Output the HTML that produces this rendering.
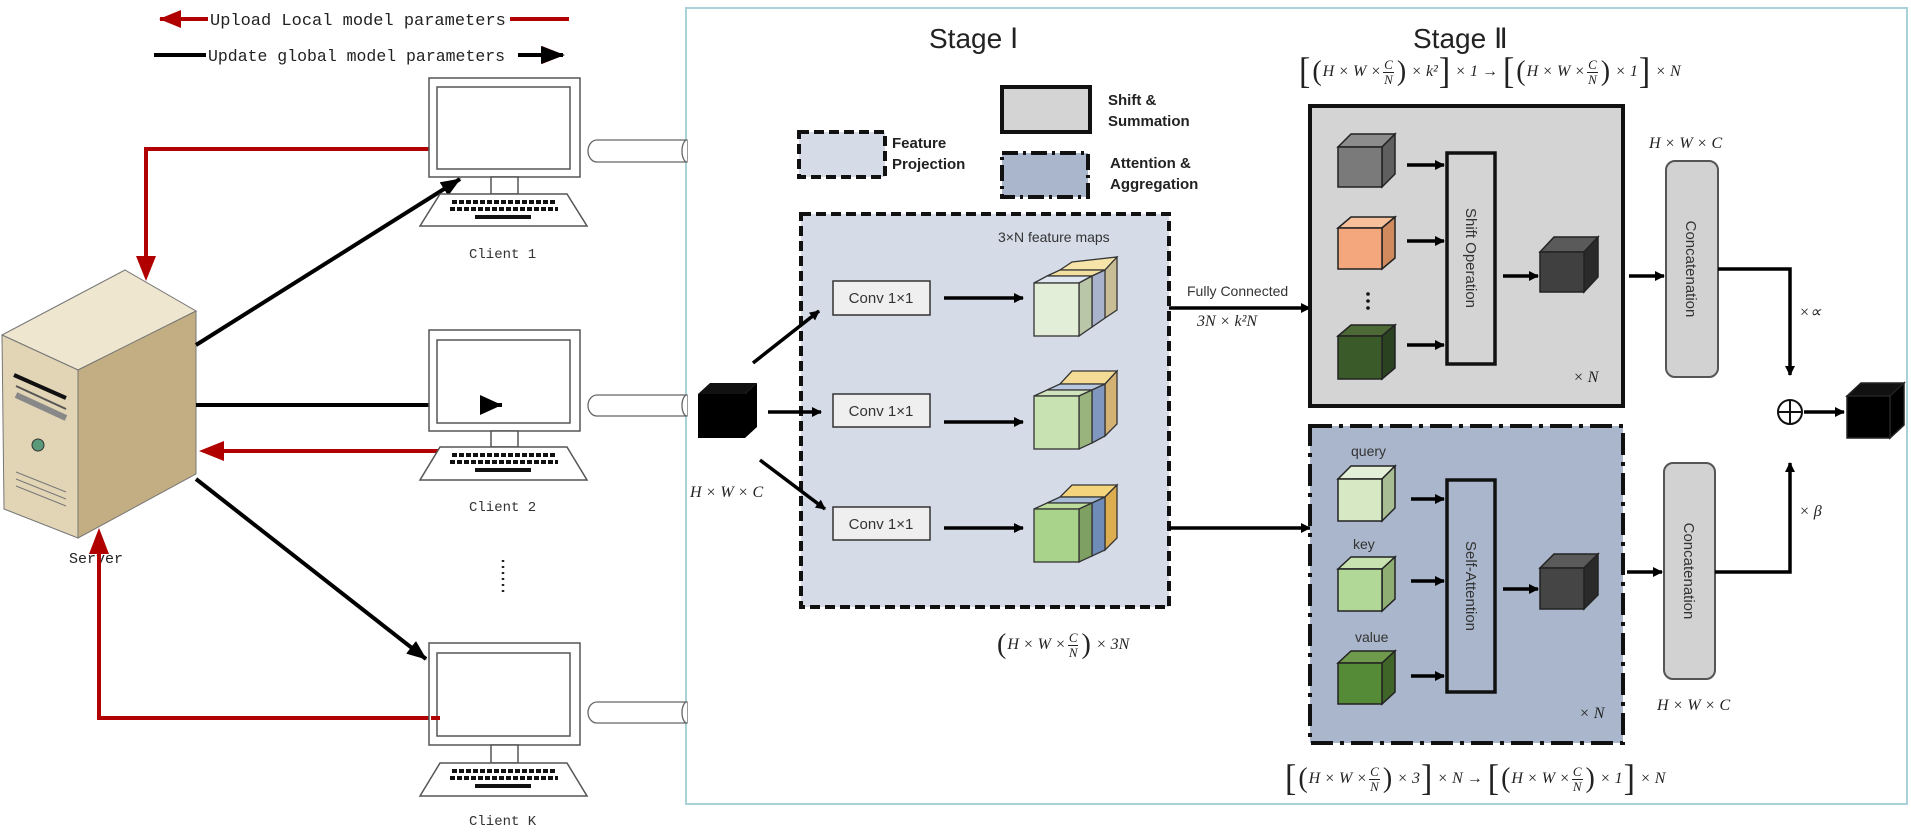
<!DOCTYPE html>
<html><head><meta charset="utf-8">
<style>
body{margin:0;background:#fff;}
#w{position:relative;width:1911px;height:840px;overflow:hidden;font-family:"Liberation Sans",sans-serif;}
svg{position:absolute;left:0;top:0;}
.f{position:absolute;font-family:"Liberation Serif",serif;font-style:italic;font-size:16px;color:#222;white-space:nowrap;display:flex;align-items:center;}
.fr{display:inline-flex;flex-direction:column;align-items:center;font-size:13px;line-height:14px;margin:0 2px;}
.fr span:first-child{border-bottom:1px solid #222;padding:0 1px;}
.b{font-style:normal;font-size:34px;transform:scaleY(1.1);margin:0 1px;font-weight:300;}
.p{font-style:normal;font-size:28px;margin:0 1px;}
</style></head><body><div id="w">
<svg width="1911" height="840" viewBox="0 0 1911 840">
<defs>
<marker id="ab" markerWidth="10" markerHeight="10" refX="9" refY="5" orient="auto" markerUnits="userSpaceOnUse" viewBox="0 0 10 10"><path d="M0,0 L10,5 L0,10 z" fill="#000"/></marker>
<marker id="abig" markerWidth="20" markerHeight="16" refX="19" refY="8" orient="auto" markerUnits="userSpaceOnUse"><path d="M0,0 L20,8 L0,16 z" fill="#000"/></marker>
<marker id="ar" markerWidth="22" markerHeight="18" refX="21" refY="9" orient="auto" markerUnits="userSpaceOnUse"><path d="M0,0 L22,9 L0,18 z" fill="#b00000"/></marker>
</defs>

<!-- Frame -->
<rect x="686" y="8" width="1221" height="796" fill="none" stroke="#a9d2d8" stroke-width="2"/>

<!-- Legend -->
<line x1="569" y1="19" x2="160" y2="19" stroke="#b00000" stroke-width="4" marker-end="url(#ar)"/>
<rect x="208" y="8" width="302" height="22" fill="#fff"/>
<text x="210" y="25" font-family="Liberation Mono,monospace" font-size="17" fill="#222">Upload Local model parameters</text>
<line x1="154" y1="55" x2="563" y2="55" stroke="#000" stroke-width="4" marker-end="url(#ar)"/>
<path d="M541,46 L565,55 L541,64 z" fill="#000"/>
<rect x="206" y="44" width="312" height="22" fill="#fff"/>
<text x="208" y="61" font-family="Liberation Mono,monospace" font-size="16.5" fill="#222">Update global model parameters</text>

<!-- Server -->
<polygon points="2,335 125,270 196,311 78,370" fill="#efe6d0" stroke="#777" stroke-width="1"/>
<polygon points="2,335 78,370 78,538 4,509" fill="#e2d5b6" stroke="#777" stroke-width="1"/>
<polygon points="78,370 196,311 196,474 78,538" fill="#c3ad82" stroke="#777" stroke-width="1"/>
<line x1="14" y1="375" x2="66" y2="398" stroke="#111" stroke-width="4"/>
<line x1="16" y1="386" x2="66" y2="409" stroke="#555" stroke-width="2"/>
<line x1="16" y1="395" x2="66" y2="418" stroke="#888" stroke-width="6"/>
<circle cx="38" cy="445" r="6" fill="#5a9a7a" stroke="#333"/>
<line x1="16" y1="472" x2="66" y2="492" stroke="#777"/>
<line x1="16" y1="479" x2="66" y2="499" stroke="#777"/>
<line x1="16" y1="486" x2="66" y2="506" stroke="#777"/>
<text x="69" y="563" font-family="Liberation Mono,monospace" font-size="15" fill="#222">Server</text>

<!-- Red arrows -->
<polyline points="431,149 146,149 146,258" fill="none" stroke="#b00000" stroke-width="4"/>
<path d="M136,256 L146,281 L156,256 z" fill="#b00000"/>
<line x1="444" y1="451" x2="222" y2="451" stroke="#b00000" stroke-width="4"/>
<path d="M224,441 L199,451 L224,461 z" fill="#b00000"/>
<polyline points="431,718 99,718 99,552" fill="none" stroke="#b00000" stroke-width="4"/>
<path d="M89,554 L99,528 L109,554 z" fill="#b00000"/>

<!-- Black arrows -->
<line x1="196" y1="345" x2="460" y2="179" stroke="#000" stroke-width="4" marker-end="url(#abig)"/>
<line x1="196" y1="405" x2="502" y2="405" stroke="#000" stroke-width="4" marker-end="url(#abig)"/>
<line x1="196" y1="479" x2="426" y2="659" stroke="#000" stroke-width="4" marker-end="url(#abig)"/>

<!-- Clients -->
<g id="c1" fill="#fff" stroke="#555" stroke-width="1.5">
<rect x="429" y="78" width="151" height="99"/>
<rect x="437" y="87" width="133" height="82"/>
<rect x="491" y="177" width="27" height="17"/>
<polygon points="440,194 567,194 587,226 420,226"/>
</g>
<g stroke="#111" stroke-width="4" stroke-dasharray="5,2">
<line x1="452" y1="202" x2="556" y2="202"/><line x1="450" y1="209" x2="558" y2="209"/>
</g>
<rect x="475" y="215" width="56" height="4" fill="#111"/>
<text x="469" y="258" font-family="Liberation Mono,monospace" font-size="14" fill="#333">Client 1</text>

<g fill="#fff" stroke="#555" stroke-width="1.5">
<rect x="429" y="330" width="151" height="101"/>
<rect x="437" y="340" width="133" height="83"/>
<rect x="491" y="431" width="27" height="16"/>
<polygon points="440,447 567,447 587,480 420,480"/>
</g>
<g stroke="#111" stroke-width="4" stroke-dasharray="5,2">
<line x1="452" y1="455" x2="556" y2="455"/><line x1="450" y1="462" x2="558" y2="462"/>
</g>
<rect x="475" y="468" width="56" height="4" fill="#111"/>
<text x="469" y="511" font-family="Liberation Mono,monospace" font-size="14" fill="#333">Client 2</text>
<line x1="502" y1="405" x2="480" y2="405" stroke="#000" stroke-width="4"/>
<path d="M480,395 L502,405 L480,415 z" fill="#000"/>

<g fill="#fff" stroke="#555" stroke-width="1.5">
<rect x="429" y="643" width="151" height="102"/>
<rect x="437" y="653" width="133" height="83"/>
<rect x="491" y="745" width="27" height="18"/>
<polygon points="440,763 567,763 587,796 420,796"/>
</g>
<g stroke="#111" stroke-width="4" stroke-dasharray="5,2">
<line x1="452" y1="771" x2="556" y2="771"/><line x1="450" y1="778" x2="558" y2="778"/>
</g>
<rect x="475" y="784" width="56" height="4" fill="#111"/>
<text x="469" y="825" font-family="Liberation Mono,monospace" font-size="14" fill="#333">Client K</text>
<line x1="431" y1="718" x2="440" y2="718" stroke="#b00000" stroke-width="4"/>

<line x1="503" y1="560" x2="503" y2="596" stroke="#222" stroke-width="2.5" stroke-dasharray="2,4"/>

<!-- Cylinders -->
<g fill="#fff" stroke="#666" stroke-width="1.3">
<path d="M597,140 L687,140 L687,162 L597,162 A9,11 0 0 1 597,140 z"/>
<path d="M687,140 A5,11 0 0 0 687,162"/>
<path d="M597,395 L687,395 L687,416 L597,416 A9,10.5 0 0 1 597,395 z"/>
<path d="M687,395 A5,10.5 0 0 0 687,416"/>
<path d="M597,702 L687,702 L687,723 L597,723 A9,10.5 0 0 1 597,702 z"/>
<path d="M687,702 A5,10.5 0 0 0 687,723"/>
</g>

<!-- Stage I -->
<text x="929" y="48" font-size="28" fill="#222">Stage Ⅰ</text>
<rect x="799" y="132" width="86" height="45" fill="#d5dce8" stroke="#111" stroke-width="4" stroke-dasharray="10,5"/>
<text x="892" y="148" font-size="15" font-weight="bold" fill="#222">Feature</text>
<text x="892" y="169" font-size="15" font-weight="bold" fill="#222">Projection</text>
<rect x="1002" y="87" width="88" height="45" fill="#d4d4d4" stroke="#111" stroke-width="4"/>
<text x="1108" y="105" font-size="15" font-weight="bold" fill="#222">Shift &amp;</text>
<text x="1108" y="126" font-size="15" font-weight="bold" fill="#222">Summation</text>
<rect x="1002" y="153" width="86" height="44" fill="#aab6cb" stroke="#111" stroke-width="4" stroke-dasharray="16,5,3,5"/>
<text x="1110" y="168" font-size="15" font-weight="bold" fill="#222">Attention &amp;</text>
<text x="1110" y="189" font-size="15" font-weight="bold" fill="#222">Aggregation</text>

<rect x="801" y="214" width="368" height="393" fill="#d5dce8" stroke="#111" stroke-width="4" stroke-dasharray="10,5"/>
<text x="998" y="242" font-size="14" fill="#333">3×N feature maps</text>
<g fill="#efefef" stroke="#333" stroke-width="1.5">
<rect x="833" y="281" width="97" height="34"/><rect x="833" y="394" width="97" height="33"/><rect x="833" y="507" width="97" height="33"/>
</g>
<g font-size="15" fill="#333" text-anchor="middle">
<text x="881" y="303">Conv 1×1</text><text x="881" y="416">Conv 1×1</text><text x="881" y="529">Conv 1×1</text>
</g>
<g stroke="#000" stroke-width="3.5" marker-end="url(#ab)">
<line x1="944" y1="298" x2="1023" y2="298"/><line x1="944" y1="422" x2="1023" y2="422"/><line x1="944" y1="528" x2="1023" y2="528"/>
<line x1="753" y1="363" x2="819" y2="311"/><line x1="768" y1="412" x2="821" y2="412"/><line x1="760" y1="460" x2="825" y2="509"/>
<line x1="1169" y1="308" x2="1310" y2="308"/><line x1="1169" y1="528" x2="1310" y2="528"/>
</g>

<!-- feature cubes: back yellow/tan, mid blue, front green -->
<g stroke="#333" stroke-width="1.3">
<!-- row1 y front 283 -->
<polygon points="1060,283 1072,275 1117,257 1117,310 1105,318 1060,318" fill="#c9bd95"/>
<polygon points="1060,270 1072,262 1117,257 1105,270" fill="#f7e4a8"/>
<polygon points="1047,276 1092,276 1105,270 1060,270" fill="#f3e0a0"/>
<polygon points="1092,276 1105,270 1105,318 1092,327" fill="#a9b4cc"/>
<polygon points="1034,283 1079,283 1092,276 1047,276" fill="#dfe6f0"/>
<polygon points="1079,283 1092,276 1092,327 1079,336" fill="#b9c6a8"/>
<rect x="1034" y="283" width="45" height="53" fill="#e3eed8"/>
<!-- row2 -->
<polygon points="1060,384 1105,384 1117,371 1072,371" fill="#f5dc96"/>
<polygon points="1105,384 1117,371 1117,424 1105,436" fill="#d4b274"/>
<polygon points="1047,390 1092,390 1105,384 1060,384" fill="#b8c8e0"/>
<polygon points="1092,390 1105,384 1105,436 1092,443" fill="#8098c0"/>
<polygon points="1034,396 1079,396 1092,390 1047,390" fill="#cfe3bc"/>
<polygon points="1079,396 1092,390 1092,443 1079,449" fill="#9ab47e"/>
<rect x="1034" y="396" width="45" height="53" fill="#c8e2b2"/>
<!-- row3 -->
<polygon points="1060,497 1105,497 1117,485 1072,485" fill="#f5d47e"/>
<polygon points="1105,497 1117,485 1117,538 1105,550" fill="#dcae50"/>
<polygon points="1047,503 1092,503 1105,497 1060,497" fill="#a8bcd8"/>
<polygon points="1092,503 1105,497 1105,550 1092,556" fill="#6f8cb8"/>
<polygon points="1034,509 1079,509 1092,503 1047,503" fill="#bedc9c"/>
<polygon points="1079,509 1092,503 1092,556 1079,562" fill="#7ea062"/>
<rect x="1034" y="509" width="45" height="53" fill="#a9d28a"/>
</g>

<!-- input cube -->
<polygon points="698,394 710,383 757,383 745,394" fill="#111"/>
<polygon points="745,394 757,383 757,427 745,438" fill="#000"/>
<rect x="698" y="394" width="47" height="44" fill="#000"/>

<text x="1187" y="296" font-size="14" fill="#333">Fully Connected</text>

<!-- Stage II -->
<text x="1413" y="48" font-size="28" fill="#222">Stage Ⅱ</text>
<rect x="1310" y="106" width="313" height="300" fill="#d4d4d4" stroke="#111" stroke-width="4"/>
<rect x="1310" y="426" width="313" height="317" fill="#aab6cb" stroke="#111" stroke-width="4" stroke-dasharray="22,7,4,7"/>

<g stroke="#222" stroke-width="1.5">
<!-- gray -->
<polygon points="1338,147 1351,134 1395,134 1382,147" fill="#8c8c8c"/><polygon points="1382,147 1395,134 1395,174 1382,187" fill="#5f5f5f"/><rect x="1338" y="147" width="44" height="40" fill="#7a7a7a"/>
<!-- orange -->
<polygon points="1338,228 1351,217 1395,217 1382,228" fill="#f5c09a"/><polygon points="1382,228 1395,217 1395,258 1382,269" fill="#d08a5e"/><rect x="1338" y="228" width="44" height="41" fill="#f4a77c"/>
<!-- dark green -->
<polygon points="1338,336 1351,325 1395,325 1382,336" fill="#4d6a36"/><polygon points="1382,336 1395,325 1395,368 1382,379" fill="#2b4220"/><rect x="1338" y="336" width="44" height="43" fill="#3a5a2a"/>
<!-- dark cube top -->
<polygon points="1540,252 1554,237 1598,237 1584,252" fill="#5a5a5a"/><polygon points="1584,252 1598,237 1598,277 1584,292" fill="#2a2a2a"/><rect x="1540" y="252" width="44" height="40" fill="#404040"/>
<!-- query -->
<polygon points="1338,479 1351,466 1395,466 1382,479" fill="#e3efd6"/><polygon points="1382,479 1395,466 1395,508 1382,521" fill="#a9bd95"/><rect x="1338" y="479" width="44" height="42" fill="#d6e8c4"/>
<!-- key -->
<polygon points="1338,569 1351,557 1395,557 1382,569" fill="#c8e2b0"/><polygon points="1382,569 1395,557 1395,599 1382,611" fill="#8eae74"/><rect x="1338" y="569" width="44" height="42" fill="#b2d898"/>
<!-- value -->
<polygon points="1338,663 1351,651 1395,651 1382,663" fill="#6f9a4c"/><polygon points="1382,663 1395,651 1395,692 1382,704" fill="#3f6628"/><rect x="1338" y="663" width="44" height="41" fill="#558a36"/>
<!-- dark lower -->
<polygon points="1540,568 1554,554 1598,554 1584,568" fill="#5a5a5a"/><polygon points="1584,568 1598,554 1598,595 1584,609" fill="#2a2a2a"/><rect x="1540" y="568" width="44" height="41" fill="#454545"/>
<!-- output -->
<polygon points="1847,396 1861,383 1904,383 1890,396" fill="#111"/><polygon points="1890,396 1904,383 1904,425 1890,438" fill="#000"/><rect x="1847" y="396" width="43" height="42" fill="#000"/>
</g>
<circle cx="1368" cy="294" r="1.8" fill="#111"/><circle cx="1368" cy="301" r="1.8" fill="#111"/><circle cx="1368" cy="308" r="1.8" fill="#111"/>

<g font-size="14" fill="#333">
<text x="1351" y="456">query</text><text x="1353" y="549">key</text><text x="1355" y="642">value</text>
</g>

<rect x="1447" y="153" width="48" height="211" fill="#d4d4d4" stroke="#111" stroke-width="3.5"/>
<rect x="1447" y="480" width="48" height="212" fill="#aab6cb" stroke="#111" stroke-width="3.5"/>
<text transform="translate(1466,258) rotate(90)" text-anchor="middle" font-size="15" fill="#333">Shift Operation</text>
<text transform="translate(1466,586) rotate(90)" text-anchor="middle" font-size="15" fill="#333">Self-Attention</text>

<rect x="1666" y="161" width="52" height="216" rx="9" fill="#d2d2d2" stroke="#555" stroke-width="2"/>
<rect x="1664" y="463" width="51" height="216" rx="9" fill="#d2d2d2" stroke="#555" stroke-width="2"/>
<text transform="translate(1686,269) rotate(90)" text-anchor="middle" font-size="15" fill="#333">Concatenation</text>
<text transform="translate(1684,571) rotate(90)" text-anchor="middle" font-size="15" fill="#333">Concatenation</text>

<g stroke="#000" stroke-width="3.5" marker-end="url(#ab)">
<line x1="1407" y1="165" x2="1444" y2="165"/><line x1="1407" y1="241" x2="1444" y2="241"/><line x1="1407" y1="345" x2="1444" y2="345"/>
<line x1="1411" y1="499" x2="1444" y2="499"/><line x1="1411" y1="581" x2="1444" y2="581"/><line x1="1411" y1="676" x2="1444" y2="676"/>
<line x1="1503" y1="276" x2="1538" y2="276"/><line x1="1503" y1="589" x2="1538" y2="589"/>
<line x1="1629" y1="276" x2="1664" y2="276"/><line x1="1627" y1="572" x2="1662" y2="572"/>
<polyline points="1718,269 1790,269 1790,375" fill="none"/>
<polyline points="1715,572 1790,572 1790,463" fill="none"/>
<line x1="1804" y1="412" x2="1844" y2="412"/>
</g>
<circle cx="1790" cy="412" r="12" fill="#fff" stroke="#111" stroke-width="2"/>
<line x1="1778" y1="412" x2="1802" y2="412" stroke="#111" stroke-width="2"/>
<line x1="1790" y1="400" x2="1790" y2="424" stroke="#111" stroke-width="2"/>
<g font-family="Liberation Serif,serif" font-style="italic" font-size="16" fill="#222">
<text x="1799" y="317">×∝</text>
<text x="1799" y="516">× β</text>
<text x="1573" y="382">× N</text>
<text x="1579" y="718">× N</text>
<text x="1649" y="148">H × W × C</text>
<text x="1657" y="710">H × W × C</text>
<text x="690" y="497">H × W × C</text>
<text x="1197" y="326">3N × k²N</text>
</g>
</svg>

<div class="f" style="left:1298px;top:52px;height:40px;"><span class="b">[</span><span class="p">(</span>H × W ×<span class="fr"><span>C</span><span>N</span></span><span class="p">)</span>&nbsp;× k²<span class="b">]</span>&nbsp;× 1 →&nbsp;<span class="b">[</span><span class="p">(</span>H × W ×<span class="fr"><span>C</span><span>N</span></span><span class="p">)</span>&nbsp;× 1<span class="b">]</span>&nbsp;× N</div>
<div class="f" style="left:1284px;top:759px;height:40px;"><span class="b">[</span><span class="p">(</span>H × W ×<span class="fr"><span>C</span><span>N</span></span><span class="p">)</span>&nbsp;× 3<span class="b">]</span>&nbsp;× N →&nbsp;<span class="b">[</span><span class="p">(</span>H × W ×<span class="fr"><span>C</span><span>N</span></span><span class="p">)</span>&nbsp;× 1<span class="b">]</span>&nbsp;× N</div>
<div class="f" style="left:996px;top:625px;height:40px;"><span class="p">(</span>H × W ×<span class="fr"><span>C</span><span>N</span></span><span class="p">)</span>&nbsp;× 3N</div>
</div></body></html>
